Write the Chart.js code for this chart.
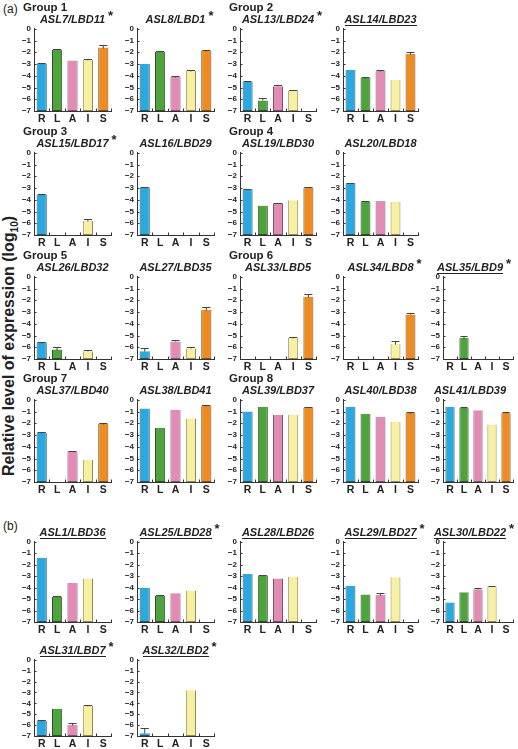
<!DOCTYPE html>
<html>
<head>
<meta charset="utf-8">
<script src="https://cdn.jsdelivr.net/npm/chart.js@4/dist/chart.umd.min.js"></script>
<style>
body { margin: 0; background: #fff; font-family: "Liberation Sans", Arial, sans-serif; }
#wrap { position: relative; width: 518px; height: 749px; overflow: hidden; }
.lbl { position: absolute; white-space: nowrap; color: #222; }
.grp { font-weight: bold; font-size: 11.5px; }
.part { font-size: 12px; }
.ttl { font-weight: bold; font-style: italic; font-size: 11px; transform: translateX(-50%); line-height: 12px; }
.ttl .u { border-bottom: 1px solid #222; }
.ttl .star { position: absolute; right: -8px; top: -3px; font-style: normal; font-size: 13px; }
.ytitle { font-weight: bold; font-size: 16px; transform: translate(-50%, -50%) rotate(-90deg); }
canvas { position: absolute; }
</style>
</head>
<body>
<div id="wrap"></div>
<script>
const categories = ['R', 'L', 'A', 'I', 'S'];
const yTicks = [0, -1, -2, -3, -4, -5, -6, -7];

const genes = [
    'ASL7/LBD11', 'ASL8/LBD1', 'ASL13/LBD24', 'ASL14/LBD23',
    'ASL15/LBD17', 'ASL16/LBD29', 'ASL19/LBD30', 'ASL20/LBD18',
    'ASL26/LBD32', 'ASL27/LBD35', 'ASL33/LBD5', 'ASL34/LBD8', 'ASL35/LBD9',
    'ASL37/LBD40', 'ASL38/LBD41', 'ASL39/LBD37', 'ASL40/LBD38', 'ASL41/LBD39',
    'ASL1/LBD36', 'ASL25/LBD28', 'ASL28/LBD26', 'ASL29/LBD27', 'ASL30/LBD22',
    'ASL31/LBD7', 'ASL32/LBD2'
];
const starred = [
    'ASL7/LBD11', 'ASL8/LBD1', 'ASL13/LBD24', 'ASL15/LBD17', 'ASL34/LBD8', 'ASL35/LBD9',
    'ASL25/LBD28', 'ASL29/LBD27', 'ASL30/LBD22', 'ASL31/LBD7', 'ASL32/LBD2'
];
const underlined = [
    'ASL14/LBD23', 'ASL35/LBD9', 'ASL1/LBD36', 'ASL25/LBD28', 'ASL28/LBD26',
    'ASL29/LBD27', 'ASL30/LBD22', 'ASL31/LBD7', 'ASL32/LBD2'
];
const groupNames = ['Group 1', 'Group 2', 'Group 3', 'Group 4', 'Group 5', 'Group 6', 'Group 7', 'Group 8'];
const groupFirstGene = ['ASL7/LBD11', 'ASL13/LBD24', 'ASL15/LBD17', 'ASL19/LBD30',
    'ASL26/LBD32', 'ASL33/LBD5', 'ASL37/LBD40', 'ASL39/LBD37'];

// log10 relative expression, per gene, order R L A I S (null = not detected)
const expression = [
    [-3.0, -1.8, -2.7, -2.65, -1.6],
    [-3.0, -1.95, -4.1, -3.6, -1.9],
    [-4.5, -6.1, -4.9, -5.25, null],
    [-3.5, -4.2, -3.6, -4.35, -2.15],
    [-3.6, null, null, -5.8, null],
    [-2.95, null, null, null, null],
    [-3.1, -4.5, -4.3, -4.05, -2.95],
    [-2.6, -4.15, -4.1, -4.2, null],
    [-5.6, -6.2, null, -6.35, null],
    [-6.35, null, -5.5, -6.1, -2.8],
    [null, null, null, -5.2, -1.7],
    [null, null, null, -5.7, -3.2],
    [null, -5.2, null, null, null],
    [-2.8, null, -4.4, -5.1, -2.05],
    [-0.75, -2.4, -0.85, -1.6, -0.5],
    [-1.0, -0.6, -1.3, -1.3, -0.65],
    [-0.6, -1.2, -1.45, -1.9, -1.1],
    [-0.6, -0.7, -0.9, -2.1, -1.1],
    [-1.4, -4.8, -3.6, -3.2, null],
    [-4.0, -4.7, -4.5, -4.25, null],
    [-2.8, -2.95, -3.2, -3.05, null],
    [-3.85, -4.6, -4.65, -3.1, null],
    [-5.3, -4.4, -4.15, -3.9, null],
    [-5.6, -4.5, -6.0, -4.2, null],
    [-6.75, null, null, -2.8, null]
];
const errors = [
    [0.05, 0.08, 0, 0.05, 0.2],
    [0, 0.05, 0.05, 0.1, 0.1],
    [0.05, 0.2, 0.15, 0.05, 0],
    [0, 0.1, 0.05, 0, 0.15],
    [0.05, 0, 0, 0.12, 0],
    [0.05, 0, 0, 0, 0],
    [0.05, 0, 0.05, 0, 0.05],
    [0.05, 0.05, 0, 0, 0],
    [0.08, 0.2, 0, 0.1, 0],
    [0.25, 0, 0.15, 0.1, 0.25],
    [0, 0, 0, 0.1, 0.25],
    [0, 0, 0, 0.2, 0.15],
    [0, 0.12, 0, 0, 0],
    [0.05, 0, 0.05, 0, 0.1],
    [0, 0, 0, 0, 0.05],
    [0, 0, 0, 0, 0.05],
    [0, 0, 0, 0, 0.05],
    [0, 0.1, 0, 0, 0.05],
    [0, 0.1, 0, 0, 0],
    [0, 0.08, 0, 0, 0],
    [0, 0.08, 0, 0, 0],
    [0, 0, 0.15, 0, 0],
    [0, 0, 0.1, 0.05, 0],
    [0.1, 0, 0.2, 0.05, 0],
    [0.45, 0, 0, 0, 0]
];

// layout
const slots = [
    [0, 0], [1, 0], [2, 0], [3, 0],
    [0, 1], [1, 1], [2, 1], [3, 1],
    [0, 2], [1, 2], [2, 2], [3, 2], [4, 2],
    [0, 3], [1, 3], [2, 3], [3, 3], [4, 3],
    [0, 4], [1, 4], [2, 4], [3, 4], [4, 4],
    [0, 5], [1, 5]
];
const colLeft = [34, 137, 240, 343, 443];
const colW = [77, 77, 76, 75, 70];
const titleShift = [0, 0, 0, 0, -8];
const rowTop = [27, 151, 275, 398, 540, 658];
const rowH = [84, 84, 84, 84, 82, 78];
const axisW = 18, axisH = 13, padT = 6, padR = 3;

const barColors = ['#2aa9e0', '#4ea43c', '#e38bb5', '#f7f0a0', '#ee8c22'];
const barEdges = ['#2b5566', '#2d4f28', '#7a5566', '#8c8860', '#7a5020'];
const ink = '#333';

const wrap = document.getElementById('wrap');

function addLabel(cls, html, x, y) {
    const d = document.createElement('div');
    d.className = 'lbl ' + cls;
    d.innerHTML = html;
    d.style.left = x + 'px';
    d.style.top = y + 'px';
    wrap.appendChild(d);
    return d;
}

const errorBars = {
    id: 'errorBars',
    afterDatasetsDraw(chart) {
        const ds = chart.data.datasets[0];
        const meta = chart.getDatasetMeta(0);
        const y = chart.scales.y;
        const ctx = chart.ctx;
        ctx.save();
        ctx.strokeStyle = '#444';
        ctx.lineWidth = 1;
        meta.data.forEach((bar, j) => {
            const v = ds.values[j], e = ds.errors[j];
            if (v === null || !e) return;
            const half = Math.max(bar.width / 2 - 1, 3);
            const yTop = Math.round(y.getPixelForValue(Math.min(v + e, 0))) + 0.5;
            const yBot = Math.round(y.getPixelForValue(v)) + 0.5;
            ctx.beginPath();
            ctx.moveTo(bar.x, yBot);
            ctx.lineTo(bar.x, yTop);
            ctx.moveTo(bar.x - half, yTop);
            ctx.lineTo(bar.x + half, yTop);
            ctx.stroke();
        });
        ctx.restore();
    }
};

const innerTicks = {
    id: 'innerTicks',
    afterDraw(chart) {
        const {ctx, chartArea: a, scales: {y}} = chart;
        ctx.save();
        ctx.strokeStyle = ink;
        ctx.lineWidth = 1;
        ctx.beginPath();
        yTicks.forEach(v => {
            const py = Math.round(y.getPixelForValue(v)) + 0.5;
            ctx.moveTo(a.left, py);
            ctx.lineTo(a.left + 2.5, py);
        });
        for (let k = 1; k <= categories.length; k++) {
            const px = Math.round(a.left + (a.right - a.left) * k / categories.length) + 0.5;
            ctx.moveTo(px, a.bottom);
            ctx.lineTo(px, a.bottom - 2.5);
        }
        ctx.stroke();
        ctx.restore();
    }
};

function makePanel(i) {
    const [col, row] = slots[i];
    const left = colLeft[col], top = rowTop[row];
    const plotW = colW[col], plotH = rowH[row];
    const gene = genes[i];

    const canvas = document.createElement('canvas');
    canvas.width = axisW + plotW + padR;
    canvas.height = padT + plotH + axisH;
    canvas.style.left = (left - axisW) + 'px';
    canvas.style.top = (top - padT) + 'px';
    wrap.appendChild(canvas);

    let html = underlined.includes(gene) ? `<span class="u">${gene}</span>` : gene;
    if (starred.includes(gene)) html += '<span class="star">*</span>';
    addLabel('ttl', html, left + plotW / 2 + titleShift[col], top - 14);

    const g = groupFirstGene.indexOf(gene);
    if (g >= 0) addLabel('grp', groupNames[g], left - 11, top - 26);

    new Chart(canvas, {
        type: 'bar',
        data: {
            labels: categories,
            datasets: [{
                data: expression[i].map(v => v === null ? null : [-7, v]),
                values: expression[i],
                errors: errors[i],
                backgroundColor: barColors,
                borderColor: barEdges,
                borderWidth: 1,
                borderSkipped: 'start',
                barPercentage: 0.66,
                categoryPercentage: 1
            }]
        },
        options: {
            responsive: false,
            animation: false,
            devicePixelRatio: 1,
            layout: { padding: { top: padT, right: padR, left: 0, bottom: 0 } },
            plugins: { legend: { display: false }, tooltip: { enabled: false } },
            scales: {
                x: {
                    grid: { display: true, drawOnChartArea: false, drawTicks: false },
                    border: { display: true, color: ink, width: 1 },
                    ticks: { font: { family: 'Liberation Sans', size: 10.5, weight: 'bold' }, color: '#222', padding: 2 },
                    afterFit: s => { s.height = axisH; }
                },
                y: {
                    min: -7,
                    max: 0,
                    afterBuildTicks: s => { s.ticks = yTicks.map(v => ({ value: v })); },
                    grid: { display: true, drawOnChartArea: false, drawTicks: false },
                    border: { display: true, color: ink, width: 1 },
                    ticks: {
                        autoSkip: false,
                        font: { family: 'Liberation Sans', size: 8, weight: 'bold' },
                        color: '#222',
                        padding: 3,
                        callback: v => v === 0 ? '0' : '\u2212' + Math.abs(v)
                    },
                    afterFit: s => { s.width = axisW; }
                }
            }
        },
        plugins: [errorBars, innerTicks]
    });
}

addLabel('part', '(a)', 3, 2);
addLabel('part', '(b)', 3, 519);
addLabel('ytitle', 'Relative level of expression (log<sub style="font-size:10px">10</sub>)', 10, 346);

genes.forEach((_, i) => makePanel(i));
</script>
</body>
</html>
